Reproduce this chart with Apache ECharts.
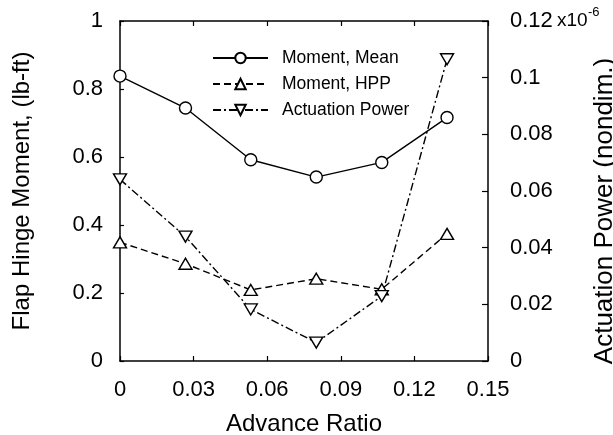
<!DOCTYPE html>
<html>
<head>
<meta charset="utf-8">
<script src="https://cdn.jsdelivr.net/npm/echarts@6/dist/echarts.min.js"></script>
<style>html,body{margin:0;padding:0;background:#fff;}#c{width:613px;height:435px;}</style>
</head>
<body>
<div id="c"></div>
<script>
var advanceRatio = [0, 0.0267, 0.0533, 0.08, 0.1067, 0.1333];
var momentMean = [0.838, 0.744, 0.592, 0.541, 0.584, 0.716];
var momentHPP = [0.349, 0.286, 0.209, 0.242, 0.211, 0.374];
var actuationPower = [0.0641, 0.0439, 0.0182, 0.0065, 0.0229, 0.1065];
var xTickLabels = ['0', '0.03', '0.06', '0.09', '0.12', '0.15'];
var yLeftTickLabels = ['0', '0.2', '0.4', '0.6', '0.8', '1'];
var yRightTickLabels = ['0', '0.02', '0.04', '0.06', '0.08', '0.1', '0.12'];

var FONT = 'Liberation Sans';
function pairs(xs, ys) { return xs.map(function (x, i) { return [x, ys[i]]; }); }
function idxFmt(labels, step) {
  return function (v) { var i = Math.round(v / step); return labels[i] !== undefined ? labels[i] : ''; };
}

var chart = echarts.init(document.getElementById('c'), null, { renderer: 'canvas' });
var lineW = 1.4;
var axisLineStyle = { color: '#000', width: 1.5 };
var option = {
  animation: false,
  backgroundColor: '#fff',
  textStyle: { fontFamily: FONT, color: '#000' },
  grid: { left: 120, right: 125, top: 21, bottom: 74, containLabel: false, outerBoundsMode: 'none' },
  legend: {
    orient: 'vertical', left: 212, top: 49, padding: 0,
    itemWidth: 55, itemHeight: 13, itemGap: 8,
    textStyle: { fontFamily: FONT, fontSize: 17.5, color: '#000', padding: [0, 0, 0, 9] },
    data: ['Moment, Mean', 'Moment, HPP', 'Actuation Power']
  },
  xAxis: [{
    type: 'value', min: 0, max: 0.15, interval: 0.03, position: 'bottom',
    name: 'Advance Ratio', nameLocation: 'middle', nameGap: 51,
    nameTextStyle: { fontFamily: FONT, fontSize: 24, color: '#000' },
    axisLine: { show: true, onZero: false, lineStyle: axisLineStyle },
    axisTick: { inside: true, length: 5, lineStyle: { color: '#000', width: 1.2 } },
    axisLabel: { fontFamily: FONT, fontSize: 22, color: '#000', margin: 18, formatter: idxFmt(xTickLabels, 0.03) },
    splitLine: { show: false }
  }, {
    type: 'value', min: 0, max: 0.15, interval: 0.03, position: 'top',
    axisLine: { show: true, onZero: false, lineStyle: axisLineStyle },
    axisTick: { inside: true, length: 5, lineStyle: { color: '#000', width: 1.2 } },
    axisLabel: { show: false }, splitLine: { show: false }
  }],
  yAxis: [{
    type: 'value', min: 0, max: 1, interval: 0.2, position: 'left',
    name: 'Flap Hinge Moment, (lb-ft)', nameLocation: 'middle', nameGap: 86, nameRotate: 90,
    nameTextStyle: { fontFamily: FONT, fontSize: 24, color: '#000' },
    axisLine: { show: true, onZero: false, lineStyle: axisLineStyle },
    axisTick: { show: true, inside: true, length: 4, lineStyle: { color: '#000', width: 1.2 } },
    axisLabel: { fontFamily: FONT, fontSize: 22, color: '#000', margin: 17, formatter: idxFmt(yLeftTickLabels, 0.2) },
    splitLine: { show: false }
  }, {
    type: 'value', min: 0, max: 0.12, interval: 0.02, position: 'right',
    name: 'Actuation Power (nondim.)', nameLocation: 'middle', nameGap: 104, nameRotate: 90,
    nameTextStyle: { fontFamily: FONT, fontSize: 26, color: '#000', padding: [0, 40, 0, 0] },
    axisLine: { show: true, onZero: false, lineStyle: axisLineStyle },
    axisTick: { show: true, inside: true, length: 6, lineStyle: { color: '#000', width: 1.2 } },
    axisLabel: { fontFamily: FONT, fontSize: 22, color: '#000', margin: 22, formatter: idxFmt(yRightTickLabels, 0.02) },
    splitLine: { show: false }
  }],
  graphic: [{
    type: 'text', left: 557, top: 11,
    style: { text: 'x10', fontFamily: FONT, fontSize: 19, fill: '#000' }
  }, {
    type: 'text', left: 588, top: 6,
    style: { text: '-6', fontFamily: FONT, fontSize: 13, fill: '#000' }
  }],
  series: [{
    name: 'Moment, Mean', type: 'line', xAxisIndex: 0, yAxisIndex: 0,
    data: pairs(advanceRatio, momentMean),
    symbol: 'circle', symbolSize: 12,
    lineStyle: { color: '#000', width: lineW, type: 'solid' },
    itemStyle: { color: '#fff', borderColor: '#000', borderWidth: 1.4 },
    z: 3
  }, {
    name: 'Moment, HPP', type: 'line', xAxisIndex: 0, yAxisIndex: 0,
    data: pairs(advanceRatio, momentHPP),
    symbol: 'triangle', symbolSize: [13, 11],
    lineStyle: { color: '#000', width: lineW, type: [7, 4] },
    itemStyle: { color: '#fff', borderColor: '#000', borderWidth: 1.4 },
    z: 3
  }, {
    name: 'Actuation Power', type: 'line', xAxisIndex: 0, yAxisIndex: 1,
    data: pairs(advanceRatio, actuationPower),
    symbol: 'triangle', symbolRotate: 180, symbolSize: [13, 11],
    lineStyle: { color: '#000', width: lineW, type: [8, 3, 2, 3] },
    itemStyle: { color: '#fff', borderColor: '#000', borderWidth: 1.4 },
    z: 3
  }]
};
chart.setOption(option);
</script>
</body>
</html>
